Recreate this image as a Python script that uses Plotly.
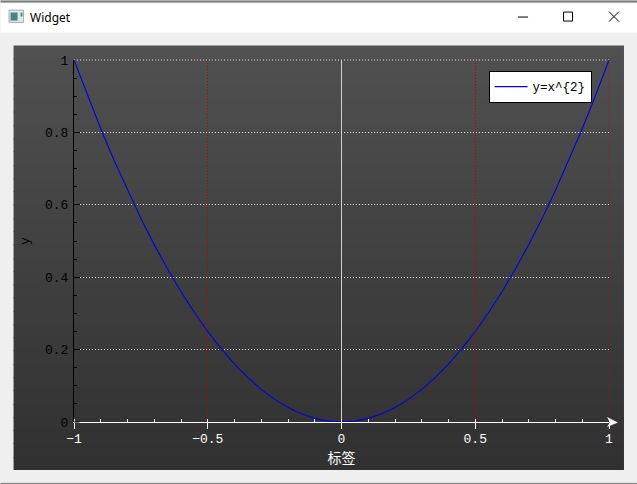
import plotly.graph_objects as go

W, H = 637, 484
L, R, T, B = 73.5, 609.0, 59.5, 422.0

x_values = [-1.0, -0.95, -0.9, -0.85, -0.8, -0.75, -0.7, -0.65, -0.6, -0.55, -0.5,
            -0.45, -0.4, -0.35, -0.3, -0.25, -0.2, -0.15, -0.1, -0.05, 0.0,
            0.05, 0.1, 0.15, 0.2, 0.25, 0.3, 0.35, 0.4, 0.45, 0.5,
            0.55, 0.6, 0.65, 0.7, 0.75, 0.8, 0.85, 0.9, 0.95, 1.0]
y_values = [1.0, 0.9025, 0.81, 0.7225, 0.64, 0.5625, 0.49, 0.4225, 0.36, 0.3025, 0.25,
            0.2025, 0.16, 0.1225, 0.09, 0.0625, 0.04, 0.0225, 0.01, 0.0025, 0.0,
            0.0025, 0.01, 0.0225, 0.04, 0.0625, 0.09, 0.1225, 0.16, 0.2025, 0.25,
            0.3025, 0.36, 0.4225, 0.49, 0.5625, 0.64, 0.7225, 0.81, 0.9025, 1.0]
x_ticks = [-1, -0.5, 0, 0.5, 1]
x_labels = ["\u22121", "\u22120.5", "0", "0.5", "1"]
y_ticks = [0, 0.2, 0.4, 0.6, 0.8, 1]
y_labels = ["0", "0.2", "0.4", "0.6", "0.8", "1"]
series_name = "y=x^{2}"
x_title = "标签"
y_title = "y"
window_title = "Widget"


def px(v):
    return (v - L) / (R - L)


def py(v):
    return (B - v) / (B - T)


def rect(x0, y0, x1, y1, fill, line=None, lw=0):
    return dict(type="rect", xref="paper", yref="paper", layer="below",
                x0=px(x0), x1=px(x1), y0=py(y0), y1=py(y1), fillcolor=fill,
                line=dict(color=line or fill, width=lw))


def seg(x0, y0, x1, y1, color, lw=1, layer="above", dash=None):
    return dict(type="line", xref="paper", yref="paper", layer=layer,
                x0=px(x0), x1=px(x1), y0=py(y0), y1=py(y1),
                line=dict(color=color, width=lw, dash=dash or "solid"))


shapes = [rect(0, 3, W, 32, "#ffffff")]
shapes += [seg(0, 1, W, 1, "#777777", 2, "below"), seg(0, 483.5, W, 483.5, "#777777", 1, "below")]

# panel gradient in bands
P0, P1 = 45, 470
bands = 32
for i in range(bands):
    t = i / (bands - 1)
    c = round(0x50 + (0x31 - 0x50) * t)
    y0 = round(P0 + (P1 - P0) * i / bands)
    y1 = P1 if i == bands - 1 else round(P0 + (P1 - P0) * (i + 1) / bands) + 1
    shapes.append(rect(13, y0, 624, y1, f"rgb({c},{c},{c})"))

GRID_W = "rgba(255,255,255,0.85)"
GRID_R = "#c00000"
DOT = "1px,2px"

# window chrome
shapes += [
    rect(8.5, 9.5, 23, 22, "#dfe6e6", "#a8b0b0", 1),
    rect(10, 12, 17, 20, "#3c8a80"),
    rect(20, 12, 22, 16, "#4f8f8a"),
    seg(518, 16.5, 528, 16.5, "#000000"),
    rect(563.5, 11.5, 572.5, 20.5, "rgba(0,0,0,0)", "#000000", 1),
    seg(609, 11, 619, 21, "#000000"),
    seg(619, 11, 609, 21, "#000000"),
]

# gridlines on the plot edges, which the axes leave out
shapes += [
    seg(L, T, R, T, GRID_W, 1, "below", DOT),
    seg(R, T, R, B, "rgba(170,20,20,0.6)", 1, "below", DOT),
]

# x axis extension and arrow
shapes += [
    seg(609, B, 612, B, "#ffffff", 1),
    dict(type="path", xref="paper", yref="paper", layer="above",
         path=f"M {px(607)},{py(417)} L {px(618)},{py(422.5)} L {px(607)},{py(427)} L {px(610)},{py(422.5)} Z",
         fillcolor="#ffffff", line=dict(color="#ffffff", width=0)),
    seg(L, B, 79, B, "#000000", 1),
]

fig = go.Figure(go.Scatter(x=x_values, y=y_values, mode="lines", name=series_name,
                           line=dict(color="#0000e6", width=1.1), cliponaxis=True))

MONO = "Liberation Mono"
fig.update_layout(
    width=W, height=H, autosize=False,
    margin=dict(l=L, r=W - R, t=T, b=H - B, pad=0),
    paper_bgcolor="#efefef", plot_bgcolor="rgba(0,0,0,0)",
    shapes=shapes,
    showlegend=True,
    legend=dict(x=(488.5 - L) / (R - L), y=(B - 70.5) / (B - T), xanchor="left", yanchor="top",
                bgcolor="#ffffff", bordercolor="#000000", borderwidth=1,
                font=dict(family=MONO, size=12.5, color="#000000"), itemwidth=33,
                entrywidth=69, entrywidthmode="pixels"),
    xaxis=dict(range=[-1, 1], tickmode="array", tickvals=x_ticks, ticktext=x_labels,
               ticks="outside", ticklen=6, tickcolor="#ffffff", tickwidth=1,
               tickfont=dict(family=MONO, size=13, color="#ffffff"), ticklabelstandoff=-2,
               showline=True, linecolor="#ffffff", linewidth=1,
               showgrid=True, gridcolor=GRID_R, griddash=DOT, gridwidth=1,
               zeroline=True, zerolinecolor="#d0d0d0", zerolinewidth=1,
               minor=dict(dtick=0.1, ticks="inside", ticklen=3, tickcolor="#ffffff", tickwidth=1, showgrid=False),
               title=dict(text=x_title, font=dict(family="Noto Sans CJK SC", size=14, color="#ffffff"), standoff=0)),
    yaxis=dict(range=[0, 1], tickmode="array", tickvals=y_ticks, ticktext=y_labels,
               ticks="inside", ticklen=6, tickcolor="#000000", tickwidth=1,
               tickfont=dict(family=MONO, size=13, color="#000000"), ticklabelstandoff=2,
               showline=True, linecolor="#000000", linewidth=1,
               showgrid=True, gridcolor=GRID_W, griddash=DOT, gridwidth=1,
               zeroline=False,
               minor=dict(dtick=0.05, ticks="inside", ticklen=3, tickcolor="#000000", tickwidth=1, showgrid=False),
               title=dict(text=y_title, font=dict(family=MONO, size=13, color="#000000"), standoff=12)),
    annotations=[dict(text=window_title, xref="paper", yref="paper", x=px(27), y=py(16.5),
                      xanchor="left", yanchor="middle", showarrow=False,
                      font=dict(family="Noto Sans", size=12, color="#000000"))],
)

fig.write_html("out.html", config=dict(displayModeBar=False),
               post_script="document.body.style.margin='0';document.body.style.overflow='hidden';")
